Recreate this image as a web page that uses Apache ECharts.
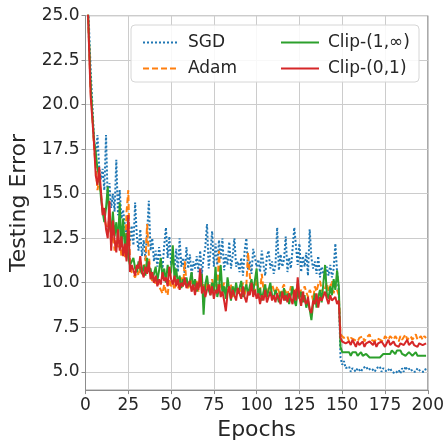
<!DOCTYPE html>
<html><head><meta charset="utf-8">
<script src="https://cdn.jsdelivr.net/npm/echarts@6/dist/echarts.min.js"></script>
<style>html,body{margin:0;padding:0;background:#fff}#c{width:447px;height:446px}</style>
</head><body><div id="c"></div>
<script>
const seriesNames = ['SGD', 'Adam', 'Clip-(1,\u221e)', 'Clip-(0,1)'];
const yTicks = [5.0, 7.5, 10.0, 12.5, 15.0, 17.5, 20.0, 22.5, 25.0];
const xTicks = [0, 25, 50, 75, 100, 125, 150, 175, 200];

const sgd = [
38, 26.5, 24.5, 22.0, 20.0, 18.0, 17.0, 18.3, 16.5, 15.8,
16.4, 15.2, 18.3, 14.5, 15.6, 14.2, 15.0, 14.0, 16.9, 13.8,
15.2, 13.6, 14.1, 13.2, 12.7, 13.8, 12.3, 13.2, 12.1, 14.5,
12.6, 11.8, 13.0, 11.5, 12.4, 11.3, 12.8, 14.6, 11.8, 12.5,
11.2, 11.8, 10.9, 12.0, 11.3, 10.8, 12.1, 13.1, 11.4, 12.6,
11.0, 11.6, 10.7, 11.9, 10.6, 12.5, 10.9, 11.4, 10.5, 12.0,
10.8, 11.6, 10.4, 11.2, 10.8, 11.5, 10.6, 11.8, 10.5, 11.4,
12.0, 13.3, 10.8, 11.7, 12.9, 10.9, 12.2, 11.0, 12.4, 11.3,
12.5, 10.7, 11.6, 11.0, 12.3, 10.8, 11.5, 12.5, 10.9, 11.2,
10.6, 11.4, 10.4, 11.8, 12.5, 10.7, 11.2, 10.5, 11.9, 12.0,
10.9, 11.3, 10.6, 11.8, 11.0, 10.4, 11.5, 11.8, 10.8, 11.2,
10.5, 11.0, 13.1, 10.7, 11.6, 10.9, 11.3, 12.6, 10.6, 11.4,
10.8, 11.9, 13.1, 13.1, 11.0, 12.2, 10.6, 11.5, 10.9, 11.7,
10.4, 13.0, 11.4, 10.8, 11.2, 10.5, 11.5, 10.3, 10.9, 10.5,
10.2, 10.9, 10.4, 11.0, 10.3, 10.8, 12.2, 10.6, 9.5, 5.8,
5.4, 5.6, 5.2, 5.1, 5.3, 5.0, 5.2, 5.1, 5.0, 5.2,
5.1, 5.0, 5.2, 5.1, 5.3, 5.1, 5.0, 5.2, 5.1, 5.0,
5.2, 5.1, 5.3, 5.0, 5.2, 5.1, 5.0, 5.1, 5.2, 5.0,
5.1, 4.9, 5.0, 5.1, 4.9, 5.2, 5.0, 5.3, 5.1, 5.0,
5.2, 5.0, 5.1, 5.0, 5.2, 5.1, 5.0, 5.1, 5.0, 5.2
];
const adam = [
38, 26.5, 23.6, 20.8, 19.4, 17.6, 16.5, 15.2, 15.8, 15.0,
14.2, 13.6, 13.2, 12.8, 13.9, 12.2, 12.9, 11.8, 12.4, 12.0,
12.3, 11.5, 12.0, 11.4, 14.0, 15.2, 11.0, 10.6, 10.5, 10.3,
10.7, 10.4, 10.9, 10.5, 10.8, 11.2, 13.3, 11.6, 10.4, 10.1,
10.3, 9.9, 10.1, 9.8, 9.6, 9.4, 9.9, 9.5, 9.3, 10.2,
9.8, 10.0, 9.6, 10.2, 9.7, 9.9, 10.3, 9.8, 11.2, 10.0,
9.7, 9.9, 10.2, 9.6, 9.8, 10.1, 9.5, 10.4, 9.7, 9.9,
9.6, 10.0, 9.8, 9.5, 10.2, 9.7, 9.9, 9.4, 11.8, 9.8,
9.6, 10.0, 9.3, 9.7, 9.5, 9.9, 9.2, 9.6, 9.8, 9.4,
9.7, 9.5, 10.0, 9.3, 9.9, 11.7, 10.4, 9.6, 9.8, 9.4,
10.2, 9.7, 9.5, 10.5, 9.6, 9.9, 9.3, 9.7, 9.5, 9.9,
9.6, 9.4, 9.8, 9.5, 9.2, 9.7, 9.9, 9.4, 9.6, 9.3,
9.8, 9.5, 9.2, 9.7, 9.9, 9.4, 9.6, 9.3, 9.8, 9.5,
9.2, 9.6, 9.4, 9.0, 9.8, 9.5, 9.9, 10.1, 9.6, 9.4,
9.7, 10.0, 9.5, 9.8, 10.1, 9.4, 9.9, 9.6, 9.3, 7.1,
7.0, 6.9, 6.8, 7.0, 6.7, 6.9, 7.0, 6.8, 6.9, 6.7,
6.9, 6.8, 7.0, 6.7, 6.9, 6.8, 7.1, 6.8, 6.9, 6.7,
6.9, 7.0, 6.8, 6.9, 6.7, 7.0, 6.9, 6.8, 7.0, 6.9,
6.8, 7.0, 6.9, 6.7, 7.0, 6.8, 6.9, 7.1, 6.8, 6.9,
7.0, 6.8, 6.9, 7.1, 6.8, 6.9, 7.0, 6.8, 7.0, 6.9
];
const clip1inf = [
38, 26.5, 23.8, 21.2, 19.5, 18.0, 17.3, 16.4, 16.0, 14.8,
14.0, 13.4, 14.2, 15.4, 13.2, 12.8, 14.0, 12.6, 13.4, 12.2,
14.5, 12.0, 13.6, 11.9, 12.8, 11.4, 11.0, 10.9, 11.4, 10.8,
10.6, 11.2, 10.8, 10.5, 11.0, 10.4, 11.4, 10.6, 10.8, 10.2,
10.5, 10.9, 10.1, 10.7, 11.4, 10.3, 10.8, 10.0, 11.0, 10.4,
10.6, 12.1, 10.2, 10.8, 9.9, 10.4, 9.7, 10.2, 9.9, 10.3,
9.8, 10.1, 10.6, 9.7, 10.2, 9.5, 10.0, 9.8, 10.5, 8.2,
9.9, 10.4, 9.6, 9.3, 10.0, 9.5, 10.9, 9.2, 9.7, 11.0,
9.4, 9.8, 9.1, 10.3, 9.6, 9.0, 9.8, 9.3, 10.0, 9.4,
9.7, 10.1, 9.2, 9.6, 9.9, 9.3, 9.8, 10.2, 9.5, 9.4,
10.8, 9.2, 9.7, 9.0, 9.5, 9.9, 9.2, 9.6, 10.0, 9.3,
9.1, 9.6, 9.3, 8.9, 9.5, 9.2, 9.7, 9.0, 9.4, 8.8,
9.3, 9.8, 9.0, 8.7, 9.6, 9.1, 9.5, 8.9, 9.3, 8.6,
9.0, 8.5, 7.9, 8.8, 9.4, 8.6, 9.2, 9.6, 8.9, 10.0,
11.0, 9.4, 9.1, 9.8, 9.3, 10.2, 9.6, 10.7, 9.8, 6.4,
6.1, 6.0, 6.1, 6.0, 6.1, 5.9, 6.1, 6.0, 6.1, 5.9,
6.0, 6.1, 5.9, 6.0, 6.0, 5.9, 5.8, 5.7, 5.8, 5.7,
5.8, 5.9, 5.8, 5.9, 6.0, 5.9, 6.0, 6.1, 6.0, 6.2,
6.1, 6.0, 6.2, 6.1, 6.2, 6.0, 6.1, 5.9, 6.0, 6.1,
6.0, 5.9, 6.0, 6.1, 5.9, 6.0, 5.9, 5.8, 5.9, 5.9
];
const clip01 = [
38, 26.5, 23.5, 20.5, 19.2, 17.8, 16.0, 15.5, 16.5, 15.2,
13.8, 14.2, 13.0, 12.5, 14.6, 11.8, 13.5, 12.4, 11.7, 13.0,
11.8, 12.6, 11.5, 12.2, 11.2, 13.8, 10.6, 11.0, 10.9, 10.4,
11.0, 10.8, 11.5, 10.6, 10.3, 10.9, 10.5, 11.2, 10.2, 10.6,
10.0, 10.4, 9.8, 10.2, 9.9, 10.6, 10.1, 10.3, 9.8, 10.9,
10.2, 9.9, 10.4, 9.8, 10.2, 9.6, 10.0, 9.8, 10.3, 9.7,
9.9, 10.1, 9.5, 9.9, 9.3, 10.0, 9.6, 10.8, 9.4, 9.8,
9.2, 9.6, 9.9, 9.3, 9.8, 9.1, 9.6, 9.4, 9.9, 9.2,
9.5, 9.0, 8.4, 9.4, 9.8, 9.1, 9.6, 9.3, 9.0, 9.7,
9.4, 9.1, 9.8, 9.2, 8.9, 9.5, 9.3, 10.0, 9.2, 9.6,
9.1, 9.4, 8.8, 9.3, 9.0, 9.6, 8.9, 9.2, 9.5, 9.0,
9.3, 8.9, 9.4, 9.1, 8.8, 9.5, 9.0, 9.3, 8.9, 9.4,
9.1, 8.8, 9.6, 9.0, 10.3, 9.2, 8.7, 9.5, 9.0, 8.8,
9.2, 8.5, 8.3, 9.0, 8.8, 9.4, 8.6, 9.2, 9.0, 8.9,
9.5, 9.1, 8.8, 9.3, 9.0, 8.9, 9.2, 8.8, 9.0, 6.9,
6.7, 6.6, 6.6, 6.5, 6.7, 6.5, 6.8, 6.6, 6.4, 6.7,
6.5, 6.6, 6.7, 6.4, 6.6, 6.5, 6.7, 6.6, 6.5, 6.7,
6.4, 6.6, 6.5, 6.7, 6.6, 6.4, 6.6, 6.8, 6.5, 6.6,
6.7, 6.5, 6.6, 6.4, 6.6, 6.7, 6.5, 6.6, 6.8, 6.5,
6.6, 6.7, 6.5, 6.6, 6.4, 6.6, 6.7, 6.5, 6.6, 6.6
];

const colors = ['#1f77b4', '#ff7f0e', '#2ca02c', '#d62728'];
const lineTypes = ['dotted', [6, 3], 'solid', 'solid'];
const allData = [sgd, adam, clip1inf, clip01];
const FONT = 'DejaVu Sans';

const chart = echarts.init(document.getElementById('c'), null, {renderer: 'canvas'});
const series = allData.map((arr, k) => ({
  name: seriesNames[k],
  type: 'line',
  data: arr.map((v, i) => [i, v]),
  showSymbol: false,
  symbol: 'none',
  clip: true,
  animation: false,
  lineStyle: {color: colors[k], width: 2, type: lineTypes[k]},
  itemStyle: {color: colors[k]},
  z: 2 + k
}));

const legendCommon = {
  orient: 'vertical', top: 29, itemHeight: 14, itemGap: 9,
  itemStyle: {color: 'transparent', borderWidth: 0, opacity: 0},
  textStyle: {fontFamily: FONT, fontSize: 17, color: '#262626', padding: [0, 0, 0, 4]},
  z: 60
};

chart.setOption({
  animation: false,
  backgroundColor: '#fff',
  grid: {left: 85.5, right: 18, top: 15.7, bottom: 53.3, show: true, borderColor: '#8c8c8c', borderWidth: 1},
  graphic: [{
    type: 'rect', shape: {x: 131, y: 25, width: 288, height: 57, r: 4},
    style: {fill: 'rgba(255,255,255,0.85)', stroke: '#d6d6d6', lineWidth: 1}, z: 50
  }],
  legend: [
    Object.assign({}, legendCommon, {data: [seriesNames[0], seriesNames[1]], left: 137, itemWidth: 36}),
    Object.assign({}, legendCommon, {data: [seriesNames[2], seriesNames[3]], left: 275, itemWidth: 38})
  ],
  xAxis: {
    type: 'value', min: 0, max: 200, interval: 25,
    name: 'Epochs', nameLocation: 'middle', nameGap: 28,
    nameTextStyle: {fontFamily: FONT, fontSize: 22, color: '#262626'},
    axisLine: {show: true, lineStyle: {color: '#8c8c8c', width: 1}},
    axisTick: {show: true, length: 4, lineStyle: {color: '#8c8c8c'}},
    axisLabel: {fontFamily: FONT, fontSize: 17, color: '#262626', margin: 7,
      customValues: xTicks, formatter: v => String(v)},
    splitLine: {show: true, lineStyle: {color: '#cccccc', width: 1}}
  },
  yAxis: {
    type: 'value', min: 3.97, max: 25,
    name: 'Testing Error', nameLocation: 'middle', nameGap: 46,
    nameTextStyle: {fontFamily: FONT, fontSize: 22, color: '#262626'},
    axisLine: {show: true, lineStyle: {color: '#8c8c8c', width: 1}},
    axisTick: {show: true, length: 4, lineStyle: {color: '#8c8c8c'}, customValues: yTicks},
    axisLabel: {fontFamily: FONT, fontSize: 17, color: '#262626', margin: 6,
      customValues: yTicks, formatter: v => v.toFixed(1)},
    splitLine: {show: true, lineStyle: {color: '#cccccc', width: 1}}
  },
  series: series
});
</script></body></html>
